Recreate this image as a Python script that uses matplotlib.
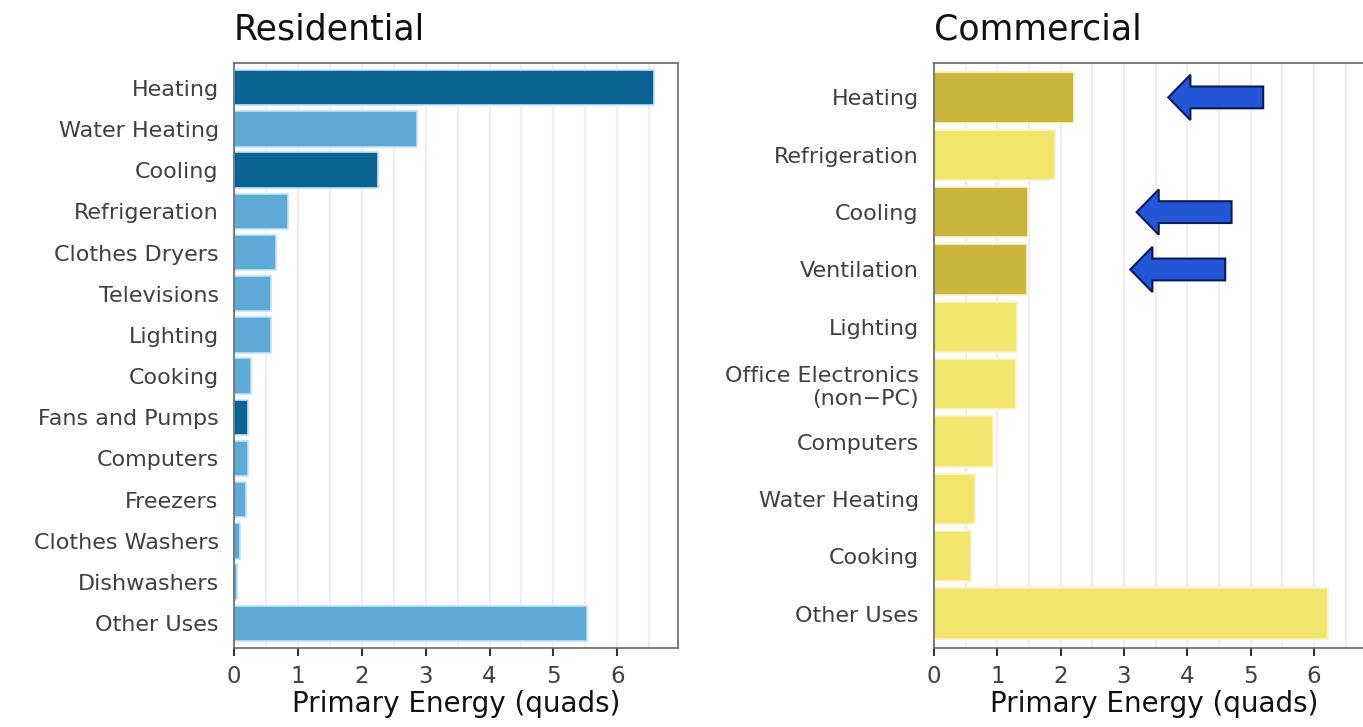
# Residential vs commercial primary energy by end use
import numpy as np
import matplotlib.pyplot as plt
from matplotlib.ticker import MultipleLocator

plt.rcParams['font.family'] = ['DejaVu Sans']

# Residential data
res_labels = ["Heating", "Water Heating", "Cooling", "Refrigeration", "Clothes Dryers",
              "Televisions", "Lighting", "Cooking", "Fans and Pumps", "Computers",
              "Freezers", "Clothes Washers", "Dishwashers", "Other Uses"]
res_values = [6.58, 2.86, 2.25, 0.84, 0.66, 0.58, 0.58, 0.27, 0.22, 0.22, 0.19, 0.09, 0.04, 5.53]
res_highlight = [True, False, True, False, False, False, False, False, True, False,
                 False, False, False, False]

# Commercial data
com_labels = ["Heating", "Refrigeration", "Cooling", "Ventilation", "Lighting",
              "Office Electronics\n(non\u2212PC)", "Computers", "Water Heating",
              "Cooking", "Other Uses"]
com_values = [2.21, 1.91, 1.48, 1.47, 1.31, 1.29, 0.93, 0.65, 0.58, 6.22]
com_highlight = [True, False, True, True, False, False, False, False, False, False]

# Arrow positions (category index, tail x, tip x)
arrow_rows = [0, 2, 3]
arrow_tail = [5.2, 4.7, 4.6]
arrow_tip = [3.7, 3.2, 3.1]

fig = plt.figure(figsize=(13.63, 7.27), dpi=100)
ax1 = fig.add_axes([234/1363, 79/727, 444/1363, 585/727])
ax2 = fig.add_axes([934/1363, 79/727, 440/1363, 585/727])


def style_axis(ax, n):
    ax.set_xlim(0, 6.95)
    ax.set_ylim(n - 0.4, -0.6)
    ax.xaxis.set_major_locator(MultipleLocator(1))
    ax.xaxis.set_minor_locator(MultipleLocator(0.5))
    ax.grid(axis='x', which='both', color='#efefef', lw=1.6, zorder=0)
    ax.set_axisbelow(True)
    for s in ax.spines.values():
        s.set_color('#666666')
        s.set_linewidth(1.2)
    ax.tick_params(axis='y', length=0, labelsize=16, labelcolor='#404040', pad=11)
    ax.tick_params(axis='x', which='major', length=6, width=1.5, color='#333333',
                   labelsize=16.5, labelcolor='#404040', pad=6)
    ax.tick_params(axis='x', which='minor', length=0)
    ax.set_xlabel("Primary Energy (quads)", fontsize=20, labelpad=2, color='#111111')


# Residential
y1 = np.arange(len(res_labels))
c1 = ['#0b6394' if h else '#5fa9d6' for h in res_highlight]
ax1.barh(y1, res_values, height=0.86, color=c1, edgecolor='#bfe3f7', linewidth=1.2, zorder=2)
ax1.set_yticks(y1)
ax1.set_yticklabels(res_labels)
style_axis(ax1, len(res_labels))
ax1.set_title("Residential", loc='left', fontsize=25, pad=17, color='#111111')

# Commercial
y2 = np.arange(len(com_labels))
c2 = ['#c9b53b' if h else '#f2e56d' for h in com_highlight]
ax2.barh(y2, com_values, height=0.88, color=c2, edgecolor='#fbf5c8', linewidth=1.2, zorder=2)
ax2.set_yticks(y2)
ax2.set_yticklabels(com_labels)
style_axis(ax2, len(com_labels))
ax2.set_title("Commercial", loc='left', fontsize=25, pad=17, color='#111111')

for r, tail, tip in zip(arrow_rows, arrow_tail, arrow_tip):
    ax2.arrow(tail, r, tip - tail, 0, width=0.38, head_width=0.79, head_length=0.35,
              length_includes_head=True, fc='#2356d6', ec='#0a1a5a', lw=1.5, zorder=5)

fig.savefig("out.png", dpi=100)
